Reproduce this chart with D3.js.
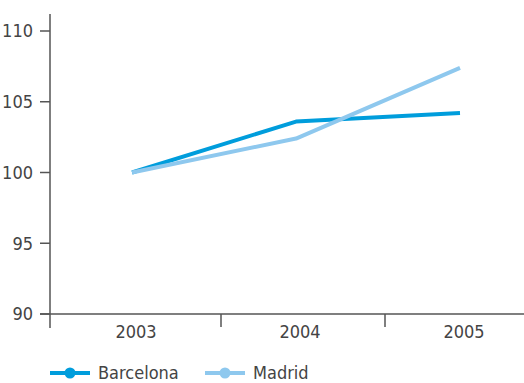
<!DOCTYPE html>
<html>
<head>
<meta charset="utf-8">
<script src="https://cdn.jsdelivr.net/npm/d3@7"></script>
<style>
  body { margin: 0; background: #fff; }
  svg { display: block; }
  text { font-family: "DejaVu Sans Condensed", "Liberation Sans Narrow", "Roboto", sans-serif; fill: #444; }
</style>
</head>
<body>
<div id="chart"></div>
<script>
const years = ['2003', '2004', '2005'];
const barcelona = [100, 103.6, 104.2];
const madrid = [100, 102.4, 107.4];
const yTicks = [90, 95, 100, 105, 110];
const seriesNames = ['Barcelona', 'Madrid'];
const seriesColors = ['#009ddc', '#8ec8ee'];

const width = 524, height = 383;
const svg = d3.select('#chart').append('svg')
    .attr('width', width)
    .attr('height', height);

// band scale: point positions at band centres, separators near band starts
const x = d3.scaleBand().domain(years).range([50, 542]).padding(0);
const y = d3.scaleLinear().domain([90, 110]).range([314, 31]);

const axisColor = '#555';

// y axis
const yAxis = svg.append('g').attr('transform', 'translate(50,0)');
yAxis.append('line')
    .attr('x1', 0).attr('x2', 0)
    .attr('y1', 14).attr('y2', 328)
    .attr('stroke', axisColor).attr('stroke-width', 1.5);
yAxis.selectAll('.ytick')
    .data(yTicks)
    .enter().append('line')
    .attr('x1', -10).attr('x2', 0)
    .attr('y1', d => y(d)).attr('y2', d => y(d))
    .attr('stroke', axisColor).attr('stroke-width', 1.5);
yAxis.selectAll('text')
    .data(yTicks)
    .enter().append('text')
    .attr('x', -17)
    .attr('y', d => y(d))
    .attr('dy', '0.35em')
    .attr('text-anchor', 'end')
    .style('font-size', '18px')
    .text(d => d);

// x axis
const xAxis = svg.append('g');
xAxis.append('line')
    .attr('x1', 40).attr('x2', width)
    .attr('y1', y(90)).attr('y2', y(90))
    .attr('stroke', axisColor).attr('stroke-width', 1.5);
xAxis.selectAll('.xtick')
    .data(years.slice(1))
    .enter().append('line')
    .attr('x1', d => x(d) + 7).attr('x2', d => x(d) + 7)
    .attr('y1', y(90)).attr('y2', y(90) + 13)
    .attr('stroke', axisColor).attr('stroke-width', 1.5);
xAxis.selectAll('text')
    .data(years)
    .enter().append('text')
    .attr('x', d => x(d) + x.bandwidth() / 2 + 4)
    .attr('y', 338)
    .attr('text-anchor', 'middle')
    .style('font-size', '18px')
    .text(d => d);

// lines
const line = d3.line()
    .x((d, i) => x(years[i]) + x.bandwidth() / 2)
    .y(d => y(d));

[barcelona, madrid].forEach((vals, i) => {
    svg.append('path')
        .datum(vals)
        .attr('d', line)
        .attr('fill', 'none')
        .attr('stroke', seriesColors[i])
        .attr('stroke-width', 4)
        .attr('stroke-linejoin', 'round');
});

// legend
const legend = svg.append('g').attr('transform', 'translate(50,373)');
const items = legend.selectAll('g')
    .data(seriesNames)
    .enter().append('g')
    .attr('transform', (d, i) => `translate(${i * 155},0)`);
items.append('line')
    .attr('x1', 0).attr('x2', 40)
    .attr('stroke', (d, i) => seriesColors[i])
    .attr('stroke-width', 4);
items.append('circle')
    .attr('cx', 20).attr('r', 5.5)
    .attr('fill', (d, i) => seriesColors[i]);
items.append('text')
    .attr('x', 48)
    .attr('dy', '0.35em')
    .style('font-size', '18px')
    .text(d => d);
</script>
</body>
</html>
